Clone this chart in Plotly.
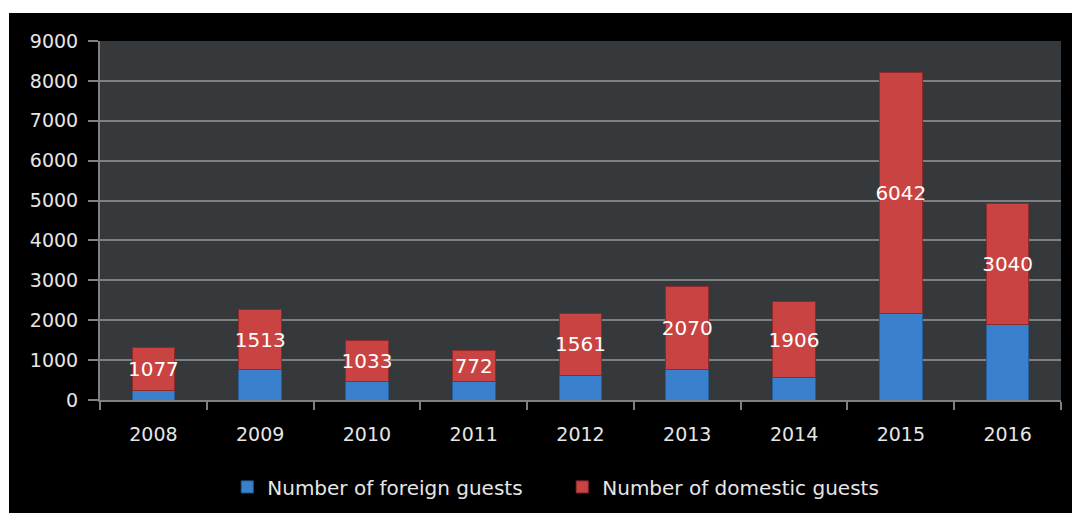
import plotly.graph_objects as go

years = ["2008", "2009", "2010", "2011", "2012", "2013", "2014", "2015", "2016"]
# foreign guests read off the blue segments (no labels in the picture)
foreign = [250, 760, 470, 460, 620, 770, 560, 2180, 1890]
# domestic guests - labelled values
domestic = [1077, 1513, 1033, 772, 1561, 2070, 1906, 6042, 3040]

FONT = "DejaVu Sans"
GRID = "#808080"

fig = go.Figure()

fig.add_trace(
    go.Bar(
        x=years,
        y=foreign,
        name="Number of foreign guests",
        marker=dict(color="#3a80cc", line=dict(color="#25609f", width=1)),
    )
)

fig.add_trace(
    go.Bar(
        x=years,
        y=domestic,
        name="Number of domestic guests",
        marker=dict(color="#c84341", line=dict(color="#8e2a2a", width=1)),
        text=[str(v) for v in domestic],
        textposition="inside",
        insidetextanchor="middle",
        textangle=0,
        constraintext="none",
        textfont=dict(family=FONT, size=20, color="white"),
    )
)

# white strips round the black panel (the screenshot has a thin white edge top/left)
fig.add_shape(type="rect", xref="paper", yref="paper", x0=-0.2, x1=1.1,
              y0=1.078, y1=1.3, fillcolor="white", line_width=0, layer="above")
fig.add_shape(type="rect", xref="paper", yref="paper", x0=-0.2, x1=-0.0947,
              y0=-0.5, y1=1.3, fillcolor="white", line_width=0, layer="above")

fig.update_layout(
    barmode="stack",
    bargap=0.6,
    width=1072,
    height=513,
    paper_bgcolor="black",
    plot_bgcolor="#36393c",
    font=dict(family=FONT, size=19, color="#e6e6e6"),
    margin=dict(l=100, r=11, t=41, b=113, autoexpand=False),
    showlegend=True,
    legend=dict(
        orientation="h",
        x=0.481,
        xanchor="center",
        y=-0.242,
        yanchor="middle",
        font=dict(family=FONT, size=20, color="#e6e6e6"),
        entrywidth=290,
        traceorder="normal",
    ),
)

fig.update_xaxes(
    type="category",
    showgrid=False,
    showline=True,
    linecolor=GRID,
    linewidth=2,
    ticks="outside",
    tickson="boundaries",
    ticklen=8,
    tickcolor=GRID,
    tickwidth=2,
    ticklabelstandoff=16,
    automargin=False,
)

fig.update_yaxes(
    range=[0, 9000],
    dtick=1000,
    showgrid=True,
    gridcolor=GRID,
    gridwidth=2,
    showline=True,
    linecolor=GRID,
    linewidth=2,
    ticks="outside",
    ticklen=10,
    tickcolor=GRID,
    tickwidth=2,
    zeroline=False,
    ticklabelstandoff=6,
    automargin=False,
)

# drop the default 8px body margin so the figure sits flush in the window
fig.write_html(
    "out.html",
    config={"displayModeBar": False},
    post_script="document.body.style.margin='0';",
)
